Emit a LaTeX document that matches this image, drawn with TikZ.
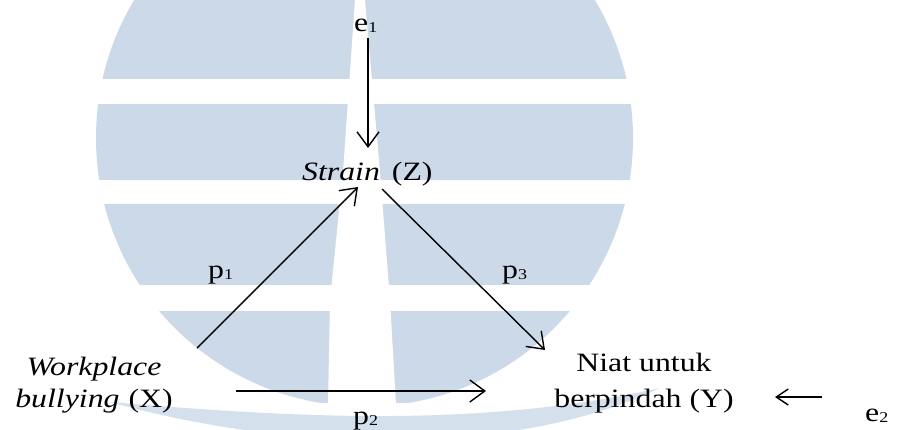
\documentclass[tikz,border=0pt]{standalone}
\usepackage{fontspec}
\setmainfont{Liberation Serif}[FakeStretch=1.2]
\usetikzlibrary{arrows.meta}
\definecolor{wm}{RGB}{204,217,232}
\definecolor{wmlight}{RGB}{213,224,237}
\newcommand{\lowsub}[1]{\raisebox{-1.5pt}{\fontsize{15}{15}\selectfont #1}}
\begin{document}
\begin{tikzpicture}[x=1pt,y=-1pt,
  lbl/.style={inner sep=0pt, font=\fontsize{26.5}{36}\selectfont},
  arr/.style={line width=1.4pt, -{Straight Barb[length=15pt,width=22pt]}},
  arrsmall/.style={line width=1.4pt, -{Straight Barb[length=12pt,width=16pt]}}]
\useasboundingbox (0,0) rectangle (899,429);
% watermark
\begin{scope}
  \clip (0,0) rectangle (899,429);
  \fill[wmlight] (110,402) .. controls (300,418) and (480,428) .. (660,388)
     .. controls (520,455) and (300,455) .. (110,402) -- cycle;
  \begin{scope}
    \clip (0,0) rectangle (899,402);
    \fill[wm] (364.5,138) circle[radius=268.5];
  \end{scope}
  \fill[white] (0,79) rectangle (899,104);
  \fill[white] (0,180) rectangle (899,204);
  \fill[white] (0,285) rectangle (899,311);
  \fill[white] (355,0) -- (365,0) -- (380,172) -- (390,300) -- (396,405)
     -- (328,405) -- (330,300) -- (343,172) -- cycle;
\end{scope}
% nodes
\node[lbl, anchor=base west] (e1) at (354,31) {e\lowsub{1}};
\node[lbl, anchor=base west] (Z) at (302,180) {\textit{Strain}\hspace{12pt}(Z)};
\node[lbl, anchor=base, align=center, font=\fontsize{26.5}{32}\selectfont] (X) at (94,407) {\textit{Workplace}\\\textit{bullying}\hspace{9pt}(X)};
\node[lbl, anchor=base, align=center] (Y) at (644,407) {Niat untuk\\berpindah (Y)};
\node[lbl, anchor=base west] (e2) at (865,421) {e\lowsub{2}};
\node[lbl, anchor=base west] (p1) at (208,278) {p\lowsub{1}};
\node[lbl, anchor=base west] (p3) at (502,278) {p\lowsub{3}};
\node[lbl, anchor=base west] (p2) at (353,424) {p\lowsub{2}};
% connector end points
\coordinate (e1s) at (368,38);  \coordinate (e1t) at (368,148);
\coordinate (xs) at (197,348);  \coordinate (zt) at (358,187);
\coordinate (zs) at (382,189);  \coordinate (yt) at (545,350);
\coordinate (xs2) at (236,391); \coordinate (yt2) at (486,391);
\coordinate (e2s) at (822,397); \coordinate (e2t) at (775,397);
\draw[arr] (e1s) -- (e1t);
\draw[arr] (xs) -- (zt);
\draw[arr] (zs) -- (yt);
\draw[arr] (xs2) -- (yt2);
\draw[arrsmall] (e2s) -- (e2t);
\end{tikzpicture}
\end{document}
